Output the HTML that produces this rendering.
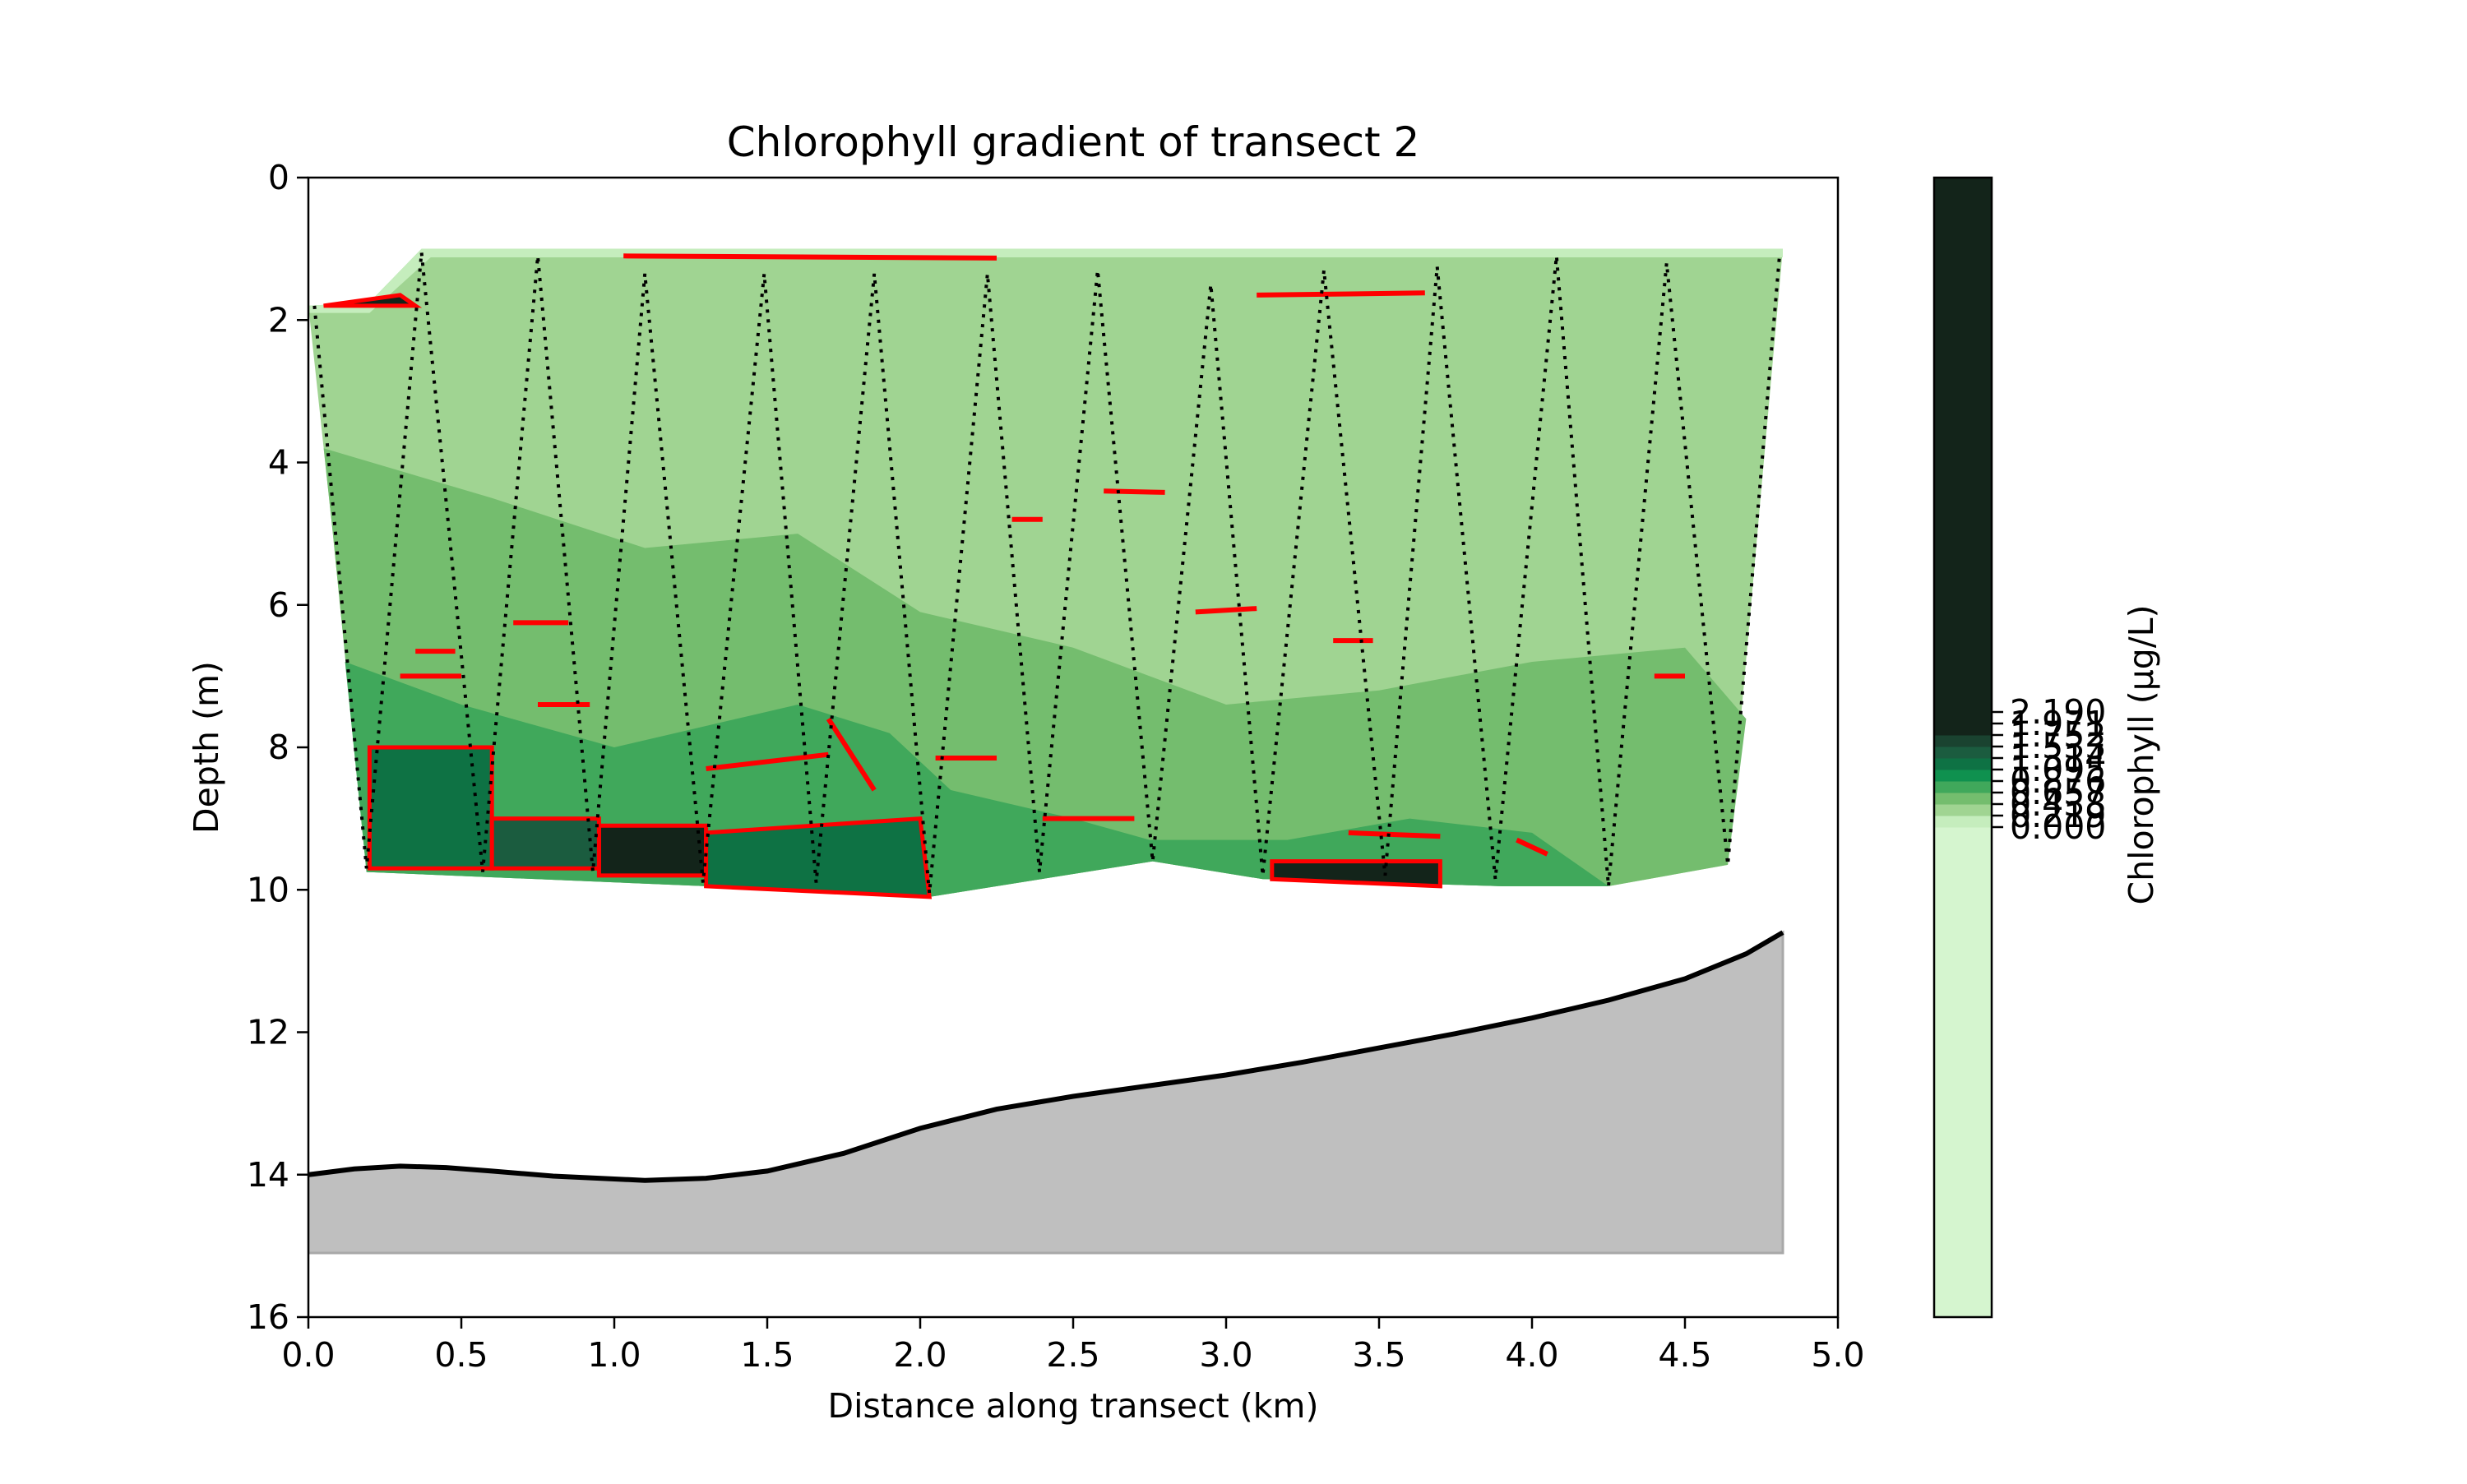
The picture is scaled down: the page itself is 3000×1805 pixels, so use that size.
<!DOCTYPE html>
<html><head><meta charset="utf-8"><style>
body{margin:0;background:#fff}
svg text{font-family:"DejaVu Sans","Liberation Sans",sans-serif;fill:#000}
</style></head><body>
<svg id="chart" width="3000" height="1800" viewBox="0 0 3000 1800" xmlns="http://www.w3.org/2000/svg">
<rect width="3000" height="1800" fill="#fff"/>
<defs><clipPath id="axclip"><rect x="375" y="216" width="1860" height="1386"/></clipPath></defs>
<g id="plot" clip-path="url(#axclip)"></g>
<g id="axes"></g>
<g id="cbar"></g>
</svg>
<script>
const xTicks=[0,0.5,1.0,1.5,2.0,2.5,3.0,3.5,4.0,4.5,5.0];
const yTicks=[0,2,4,6,8,10,12,14,16];
const profTopX=[0.37,0.75,1.10,1.49,1.85,2.22,2.58,2.95,3.32,3.69,4.08,4.44,4.81];
const profTopD=[1.05,1.1,1.35,1.35,1.35,1.35,1.3,1.5,1.3,1.25,1.1,1.2,1.05];
const profBotX=[0.19,0.57,0.93,1.29,1.66,2.03,2.39,2.76,3.12,3.52,3.88,4.25,4.64];
const profBotD=[9.7,9.75,9.75,9.9,9.9,10.05,9.75,9.6,9.8,9.8,9.85,9.95,9.65];
const bathX=[0,0.15,0.3,0.45,0.6,0.8,1.1,1.3,1.5,1.75,2.0,2.25,2.5,2.75,3.0,3.25,3.5,3.75,4.0,4.25,4.5,4.7,4.82];
const bathD=[14.0,13.92,13.88,13.9,13.95,14.02,14.08,14.05,13.95,13.7,13.35,13.08,12.9,12.75,12.6,12.42,12.22,12.02,11.8,11.55,11.25,10.9,10.6];
const cbLevels=[0.000,0.219,0.438,0.657,0.876,1.095,1.314,1.533,1.752,1.971,2.190];
const cbLabels=["0.000","0.219","0.438","0.657","0.876","1.095","1.314","1.533","1.752","1.971","2.190"];
const cbColors=["#c5edbd","#a0d492","#74bd6e","#40a85b","#0f914f","#0e7244","#1b5c3f","#1a4330","#13241a"];

const X=k=>375+k*372, Y=d=>216+d*86.625;
const NS="http://www.w3.org/2000/svg";
function mk(parent,tag,attrs){const e=document.createElementNS(NS,tag);for(const k in attrs)e.setAttribute(k,attrs[k]);parent.appendChild(e);return e;}
function pts(arr){return arr.map(p=>X(p[0]).toFixed(1)+","+Y(p[1]).toFixed(1)).join(" ");}
const plot=document.getElementById('plot'), axes=document.getElementById('axes'), cb=document.getElementById('cbar');

const outline=[[0,1.8],[0.2,1.75],[0.37,1.0],[4.82,1.0],[4.64,9.65],[4.25,9.95],[3.9,9.95],[3.12,9.85],[2.76,9.6],[2.03,10.1],[1.3,9.95],[0.19,9.75],[0.08,5],[0,1.8]];
let e;
e=mk(plot,'polygon',{points:pts(outline),fill:'#a0d492'});


e=mk(plot,'polygon',{points:pts([[0,1.8],[0.2,1.75],[0.37,1.0],[4.82,1.0],[4.82,1.12],[0.4,1.12],[0.2,1.9],[0,1.9]]),fill:'#c5edbd'});


e=mk(plot,'polygon',{points:pts([[0.05,3.8],[0.6,4.5],[1.1,5.2],[1.6,5.0],[2.0,6.1],[2.5,6.6],[3.0,7.4],[3.5,7.2],[4.0,6.8],[4.5,6.6],[4.7,7.6],[4.64,9.65],[4.25,9.95],[3.9,9.95],[3.12,9.85],[2.76,9.6],[2.03,10.1],[1.3,9.95],[0.19,9.75],[0.08,5]]),fill:'#74bd6e'});


e=mk(plot,'polygon',{points:pts([[0.12,6.8],[0.5,7.4],[1.0,8.0],[1.6,7.4],[1.9,7.8],[2.1,8.6],[2.5,9.0],[2.75,9.3],[3.2,9.3],[3.6,9.0],[4.0,9.2],[4.25,9.95],[3.9,9.95],[3.12,9.85],[2.76,9.6],[2.03,10.1],[1.3,9.95],[0.19,9.75]]),fill:'#40a85b'});


const patches=[
 [[0.2,8.0],[0.6,8.0],[0.6,9.7],[0.2,9.7]],
 [[0.95,9.1],[1.3,9.1],[1.3,9.8],[0.95,9.8]],
 [[1.3,9.2],[2.0,9.0],[2.03,10.1],[1.3,9.95]],
 [[3.15,9.6],[3.7,9.6],[3.7,9.95],[3.15,9.85]],
 [[0.6,9.0],[0.95,9.0],[0.95,9.7],[0.6,9.7]],
 [[0.05,1.8],[0.3,1.65],[0.35,1.8]]
];
const patchCols=['#0e7244','#13241a','#0e7244','#13241a','#1b5c3f','#13241a'];
patches.forEach((p,i)=>{const q=mk(plot,'polygon',{points:pts(p),fill:patchCols[i],stroke:'#ff0000','stroke-width':5});

});
const reds=[[[1.03,1.1],[2.25,1.13]],[[3.1,1.65],[3.65,1.62]],[[2.6,4.4],[2.8,4.42]],[[2.3,4.8],[2.4,4.8]],[[0.67,6.25],[0.85,6.25]],[[2.9,6.1],[3.1,6.05]],[[3.35,6.5],[3.48,6.5]],[[4.4,7.0],[4.5,7.0]],[[0.35,6.65],[0.48,6.65]],[[2.05,8.15],[2.25,8.15]],[[1.3,8.3],[1.7,8.1]],[[1.7,7.6],[1.85,8.6]],[[0.75,7.4],[0.92,7.4]],[[3.4,9.2],[3.7,9.25]],[[3.95,9.3],[4.05,9.5]],[[2.4,9.0],[2.7,9.0]],[[0.3,7.0],[0.5,7.0]]];
reds.forEach(r=>{const q=mk(plot,'polyline',{points:pts(r),fill:'none',stroke:'#ff0000','stroke-width':6});

});
const track=[[0.02,1.8]];
for(let i=0;i<profBotX.length;i++){track.push([profBotX[i],profBotD[i]]);if(i<profTopX.length)track.push([profTopX[i],profTopD[i]]);}
e=mk(plot,'polyline',{points:pts(track),fill:'none',stroke:'#000','stroke-width':4,'stroke-dasharray':'4,8'});


const bp=bathX.map((x,i)=>[x,bathD[i]]);
e=mk(plot,'polygon',{points:pts(bp.concat([[4.82,15.1],[0,15.1]])),fill:'#bfbfbf',stroke:'#a8a8a8','stroke-width':3});


e=mk(plot,'polyline',{points:pts(bp),fill:'none',stroke:'#000','stroke-width':6});



e=mk(axes,'rect',{x:375,y:216,width:1860,height:1386,fill:'none',stroke:'#000','stroke-width':2.5});


xTicks.forEach(t=>{mk(axes,'line',{x1:X(t),x2:X(t),y1:1602,y2:1616,stroke:'#000','stroke-width':2.5});
const tx=mk(axes,'text',{x:X(t),y:1662,'font-size':41,'text-anchor':'middle'});tx.textContent=t.toFixed(1);

});
yTicks.forEach(t=>{mk(axes,'line',{x1:361,x2:375,y1:Y(t),y2:Y(t),stroke:'#000','stroke-width':2.5});
const tx=mk(axes,'text',{x:352,y:Y(t)+14,'font-size':41,'text-anchor':'end'});tx.textContent=t;

});
e=mk(axes,'text',{x:1305,y:190,'font-size':50,'text-anchor':'middle'});e.textContent='Chlorophyll gradient of transect 2';


e=mk(axes,'text',{x:1305,y:1724,'font-size':41,'text-anchor':'middle'});e.textContent='Distance along transect (km)';


e=mk(axes,'text',{x:265,y:909,'font-size':41,'text-anchor':'middle',transform:'rotate(-90 265 909)'});e.textContent='Depth (m)';



const cbX=2352,cbW=70,cbTop=216,cbBot=1602;
const CY=v=>1006-v*(140/2.19);
e=mk(cb,'rect',{x:cbX,y:CY(0),width:cbW,height:cbBot-CY(0),fill:'#d5f5cf'});


for(let i=0;i<cbColors.length;i++){
 const y0=CY(cbLevels[i+1]),y1=CY(cbLevels[i]);
 const top=(i==cbColors.length-1)?cbTop:y0;
 const r=mk(cb,'rect',{x:cbX,y:top,width:cbW,height:y1-top+0.5,fill:cbColors[i]});
 
 
}
e=mk(cb,'rect',{x:cbX,y:cbTop,width:cbW,height:cbBot-cbTop,fill:'none',stroke:'#000','stroke-width':2.5});


cbLevels.forEach((v,i)=>{const y=CY(v);mk(cb,'line',{x1:cbX+cbW,x2:cbX+cbW+14,y1:y,y2:y,stroke:'#000','stroke-width':2.5});
const tx=mk(cb,'text',{x:cbX+cbW+22,y:y+14,'font-size':41});tx.textContent=cbLabels[i];

});
e=mk(cb,'text',{x:2618,y:918,'font-size':41,'text-anchor':'middle',transform:'rotate(-90 2618 918)'});e.textContent='Chlorophyll (µg/L)';


</script>
</body></html>
